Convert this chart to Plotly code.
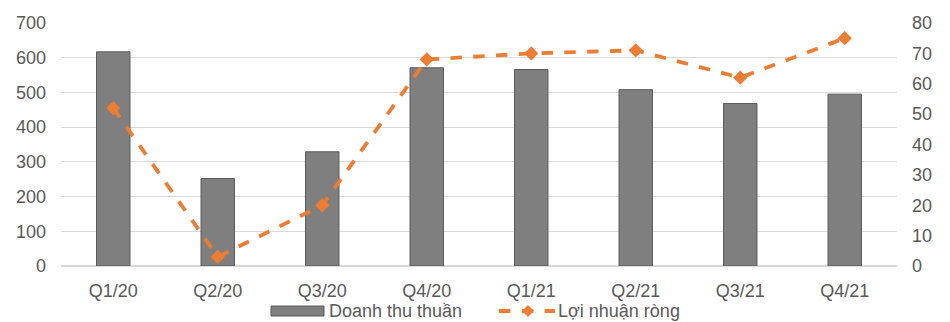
import plotly.graph_objects as go

quarters = ["Q1/20", "Q2/20", "Q3/20", "Q4/20", "Q1/21", "Q2/21", "Q3/21", "Q4/21"]
doanh_thu = [617, 252, 329, 571, 566, 508, 468, 495]
loi_nhuan = [52, 3, 20, 68, 70, 71, 62, 75]
series_names = ["Doanh thu thuần", "Lợi nhuận ròng"]

FONT = "Liberation Sans, Arial, sans-serif"
TXT = "#595959"
BAR = "#7f7f7f"
BAR_EDGE = "#5a5a5a"
ORANGE = "#ED7D31"

W, H = 950, 322
ML, MR, MT, MB = 61, 53, 23, 56
PW, PH = W - ML - MR, H - MT - MB
LEG_Y = 311


def px(x):
    return (x - ML) / PW


def py(y):
    return (H - MB - y) / PH


fig = go.Figure()
fig.add_trace(go.Bar(
    x=quarters, y=doanh_thu, name=series_names[0],
    marker=dict(color=BAR, line=dict(color=BAR_EDGE, width=1)),
    width=0.32, yaxis="y",
))
fig.add_trace(go.Scatter(
    x=quarters, y=loi_nhuan, name=series_names[1], mode="lines+markers",
    line=dict(color=ORANGE, width=3.8, dash="dash"),
    marker=dict(symbol="diamond", size=11, color=ORANGE),
    yaxis="y2",
))

# Legend drawn below the plot: wide bar swatch and dashed line with a diamond
shapes = [
    dict(type="rect", xref="paper", yref="paper",
         x0=px(271), x1=px(324), y0=py(LEG_Y + 5), y1=py(LEG_Y - 5),
         fillcolor=BAR, line=dict(color=BAR_EDGE, width=1)),
    dict(type="line", xref="paper", yref="paper",
         x0=px(499), x1=px(555), y0=py(LEG_Y), y1=py(LEG_Y),
         line=dict(color=ORANGE, width=3.8, dash="dash")),
    dict(type="path", xref="paper", yref="paper",
         path="M {a},{c} L {b},{d} L {e},{c} L {b},{f} Z".format(
             a=px(522), b=px(528), e=px(534), c=py(LEG_Y), d=py(LEG_Y - 6), f=py(LEG_Y + 6)),
         fillcolor=ORANGE, line=dict(color=ORANGE, width=0)),
]
annotations = [
    dict(xref="paper", yref="paper", x=px(328), y=py(LEG_Y), text=series_names[0],
         showarrow=False, xanchor="left", yanchor="middle", borderpad=0,
         font=dict(family=FONT, size=18, color=TXT)),
    dict(xref="paper", yref="paper", x=px(557), y=py(LEG_Y), text=series_names[1],
         showarrow=False, xanchor="left", yanchor="middle", borderpad=0,
         font=dict(family=FONT, size=18, color=TXT)),
]

fig.update_layout(
    width=W, height=H,
    margin=dict(l=ML, r=MR, t=MT, b=MB, autoexpand=False),
    paper_bgcolor="white", plot_bgcolor="white",
    font=dict(family=FONT, size=18, color=TXT),
    showlegend=False,
    xaxis=dict(showgrid=False, showline=False, ticks="", ticklabelstandoff=12,
               tickfont=dict(size=18, color=TXT)),
    yaxis=dict(range=[0, 700], dtick=100, showgrid=True, gridcolor="#d9d9d9", gridwidth=1,
               zeroline=True, zerolinecolor="#d9d9d9", ticks="", ticklabelstandoff=14,
               tickfont=dict(size=18, color=TXT)),
    yaxis2=dict(range=[0, 80], dtick=10, overlaying="y", side="right", showgrid=False,
                zeroline=False, ticks="", ticklabelstandoff=14,
                tickfont=dict(size=18, color=TXT)),
    shapes=shapes,
    annotations=annotations,
)

fig.write_html("out.html")
